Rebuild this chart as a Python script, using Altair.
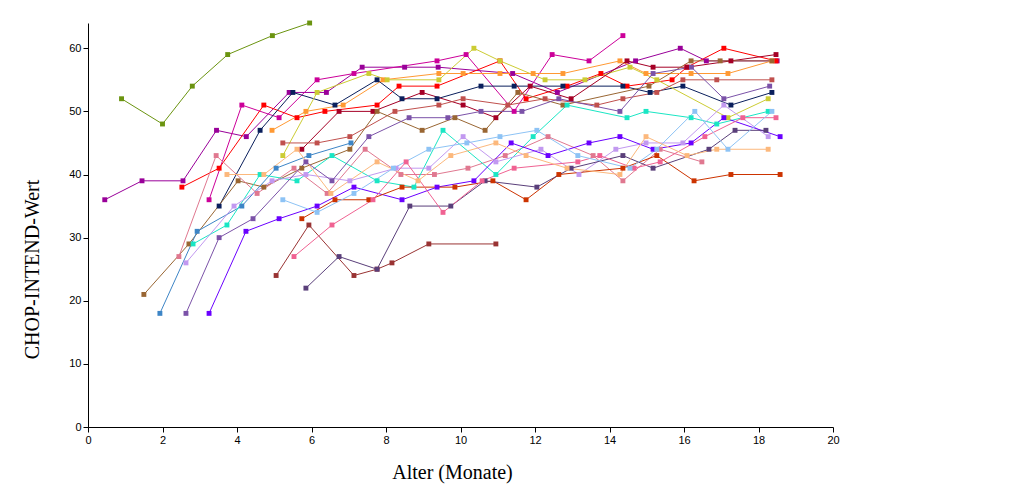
import altair as alt
import pandas as pd

# --- data ---
s01_x = [0.9, 2.0, 2.8, 3.75, 4.95, 5.95]
s01_y = [52, 48, 54, 59, 62, 64]
s02_x = [0.45, 1.45, 2.55, 3.45, 4.25, 5.4, 6.4, 7.36, 8.5, 9.4, 11.4, 12.6, 14.7, 15.9, 16.6, 18.5]
s02_y = [36, 39, 39, 47, 46, 53, 53, 57, 57, 57, 56, 53, 58, 60, 58, 58]
s03_x = [3.25, 4.13, 5.13, 6.15, 7.14, 9.37, 10.15, 11.44, 12.46, 13.45, 14.36]
s03_y = [36, 51, 49, 55, 56, 58, 59, 50, 59, 58, 62]
s04_x = [2.52, 3.52, 4.72, 5.61, 6.36, 7.76, 8.35, 9.37, 11.06, 11.76, 12.86, 13.77, 14.47, 15.68, 16.08, 17.07, 18.47]
s04_y = [38, 41, 51, 49, 50, 51, 54, 54, 58, 52, 54, 56, 54, 55, 57, 60, 58]
s05_x = [3.52, 4.62, 5.5, 6.63, 7.76, 8.43, 9.37, 10.55, 11.44, 12.75, 14.36, 15.09, 15.97, 17.26, 18.36]
s05_y = [35, 47, 53, 51, 55, 52, 52, 54, 54, 54, 54, 53, 54, 51, 53]
s06_x = [4.94, 5.85, 6.85, 7.92, 9.42, 10.07, 11.06, 11.95, 12.75, 14.28, 14.98, 16.19, 17.18, 18.36]
s06_y = [47, 50, 51, 55, 56, 56, 56, 56, 56, 58, 56, 56, 56, 58]
s07_x = [5.23, 6.15, 7.54, 8.03, 9.42, 10.36, 11.06, 12.27, 13.34, 14.55, 15.27, 17.18, 18.26]
s07_y = [43, 53, 56, 55, 55, 60, 58, 55, 55, 57, 55, 49, 52]
s08_x = [5.74, 6.74, 7.65, 8.97, 10.07, 10.95, 11.87, 12.97, 14.47, 15.17, 16.08, 17.26, 18.47]
s08_y = [44, 50, 50, 53, 51, 49, 54, 52, 58, 57, 57, 58, 59]
s09_x = [5.23, 6.15, 7.03, 8.24, 9.42, 10.07, 11.27, 12.27, 13.66, 14.36, 15.27, 15.97, 16.88, 18.36]
s09_y = [45, 45, 46, 50, 51, 52, 51, 52, 51, 52, 53, 55, 55, 55]
s10_x = [1.5, 2.71, 4.03, 4.72, 5.74, 7.03, 7.76, 8.97, 9.85, 10.66, 11.54, 12.75, 15.06, 16.19, 16.97, 18.36]
s10_y = [21, 29, 39, 38, 41, 44, 50, 47, 49, 47, 53, 51, 54, 58, 58, 58]
s11_x = [1.93, 2.93, 4.13, 5.05, 5.93, 7.06]
s11_y = [18, 31, 35, 41, 43, 45]
s12_x = [2.44, 3.44, 4.54, 5.53, 6.42, 7.44, 8.4, 9.3, 10.2, 11.2, 12.35, 13.56, 14.36, 15.36, 16.48]
s12_y = [27, 43, 37, 41, 37, 44, 40, 40, 41, 43, 46, 43, 39, 44, 42]
s13_x = [2.82, 3.73, 4.62, 5.61, 6.55, 7.76, 8.75, 9.53, 10.95, 11.95, 12.86, 14.47, 14.98, 16.19, 16.88, 18.26]
s13_y = [29, 32, 40, 39, 43, 39, 38, 47, 40, 46, 51, 49, 50, 49, 48, 50]
s14_x = [2.63, 3.92, 4.94, 5.85, 7.03, 8.27, 9.15, 10.07, 10.95, 12.16, 13.18, 14.17, 14.98, 15.97, 17.07, 18.26]
s14_y = [26, 35, 39, 40, 39, 41, 41, 46, 42, 44, 40, 44, 45, 45, 51, 46]
s15_x = [2.63, 3.52, 4.43, 5.85, 6.55, 7.54, 8.62, 9.66, 10.55, 11.65, 12.64, 14.28, 15.17, 16.2, 17.07, 18.3]
s15_y = [18, 30, 33, 42, 39, 46, 49, 49, 50, 50, 52, 50, 56, 57, 52, 54]
s16_x = [3.25, 4.24, 5.13, 6.15, 7.14, 8.43, 9.37, 10.36, 11.36, 12.35, 13.45, 14.28, 15.17, 16.19, 17.07, 18.58]
s16_y = [18, 31, 33, 35, 38, 36, 38, 39, 45, 43, 45, 46, 44, 45, 49, 46]
s17_x = [5.74, 6.63, 7.54, 8.43, 9.85, 10.87, 11.76, 12.64, 14.36, 15.27, 16.27, 17.26, 18.58]
s17_y = [33, 36, 36, 38, 38, 39, 36, 40, 41, 43, 39, 40, 40]
s18_x = [5.05, 5.93, 7.14, 7.76, 8.16, 9.15, 10.95]
s18_y = [24, 32, 24, 25, 26, 29, 29]
s19_x = [5.85, 6.74, 7.76, 8.64, 9.74, 10.66, 12.05, 12.97, 14.36, 15.17, 16.67, 17.37, 18.2]
s19_y = [22, 27, 25, 35, 35, 39, 38, 41, 43, 41, 44, 47, 47]
s20_x = [5.53, 6.55, 7.65, 8.54, 9.53, 10.58, 11.44, 13.15, 13.74, 14.66, 15.36, 16.56, 17.58, 18.47]
s20_y = [27, 32, 36, 42, 34, 39, 41, 42, 43, 41, 42, 46, 49, 49]
s21_x = [5.23, 6.15, 7.14, 8.2, 9.15, 10.17, 11.06, 12.05, 13.15, 14.55, 15.27, 16.29, 17.18, 18.36]
s21_y = [36, 34, 37, 41, 44, 45, 46, 47, 43, 41, 44, 50, 44, 50]
s22_x = [3.73, 4.72, 5.61, 6.52, 7.76, 8.86, 9.74, 10.95, 11.76, 12.86, 14.28, 14.98, 16.08, 16.88, 18.26]
s22_y = [40, 40, 44, 37, 42, 39, 43, 45, 43, 41, 40, 46, 43, 44, 44]

series = [s01_x, s02_x, s03_x, s04_x, s05_x, s06_x, s07_x, s08_x, s09_x, s10_x, s11_x,
          s12_x, s13_x, s14_x, s15_x, s16_x, s17_x, s18_x, s19_x, s20_x, s21_x, s22_x]
values = [s01_y, s02_y, s03_y, s04_y, s05_y, s06_y, s07_y, s08_y, s09_y, s10_y, s11_y,
          s12_y, s13_y, s14_y, s15_y, s16_y, s17_y, s18_y, s19_y, s20_y, s21_y, s22_y]
colors = ["#6B9410", "#990099", "#CC0099", "#FF0000", "#0A1F5C", "#FF9933", "#CCCC33",
          "#A50026", "#C0504D", "#996633", "#3D85C6", "#E07890", "#1AE6C4", "#C299F0",
          "#7B52A8", "#6A00FF", "#CC3300", "#993333", "#5A3F7A", "#F06292", "#8DC3F5",
          "#FCB87C"]
names = [f"P{i+1:02d}" for i in range(len(series))]

rows = []
for n, xs, ys in zip(names, series, values):
    for x, y in zip(xs, ys):
        rows.append({"id": n, "alter": x, "wert": y})
df = pd.DataFrame(rows)

xscale = alt.Scale(domain=[0, 20], nice=False, zero=False)
yscale = alt.Scale(domain=[0, 64], nice=False)
cscale = alt.Scale(domain=names, range=colors)

axis_style = dict(
    grid=False,
    domainColor="black",
    domainWidth=1,
    tickColor="black",
    tickSize=5,
    labelFont="Liberation Sans",
    labelFontSize=11,
    labelColor="black",
    labelPadding=2,
    labelFlush=False,
    labelOverlap=False,
    titleFont="Liberation Serif",
    titleFontSize=20,
    titleFontWeight="normal",
    titleColor="black",
)

base = alt.Chart(df).encode(
    x=alt.X("alter:Q", scale=xscale,
            axis=alt.Axis(title="Alter (Monate)", values=list(range(0, 21, 2)),
                          titleX=364, titleY=45, titleBaseline="middle", **axis_style)),
    y=alt.Y("wert:Q", scale=yscale,
            axis=alt.Axis(title="CHOP-INTEND-Wert", values=list(range(0, 61, 10)),
                          titleX=-56, titleY=246, titleBaseline="middle", titleAngle=-90,
                          **axis_style)),
    color=alt.Color("id:N", scale=cscale, legend=None),
    detail="id:N",
)

lines = base.mark_line(strokeWidth=1)
points = base.mark_point(shape="square", size=24, filled=True, opacity=1)

chart = (lines + points).properties(
    width=745, height=404,
    autosize=alt.AutoSizeParams(type="none"),
    padding={"left": 80, "top": 15, "right": 10, "bottom": 60},
    background="white",
).configure_view(stroke=None)

chart.save("out.html", embed_options={"renderer": "svg", "actions": False})
